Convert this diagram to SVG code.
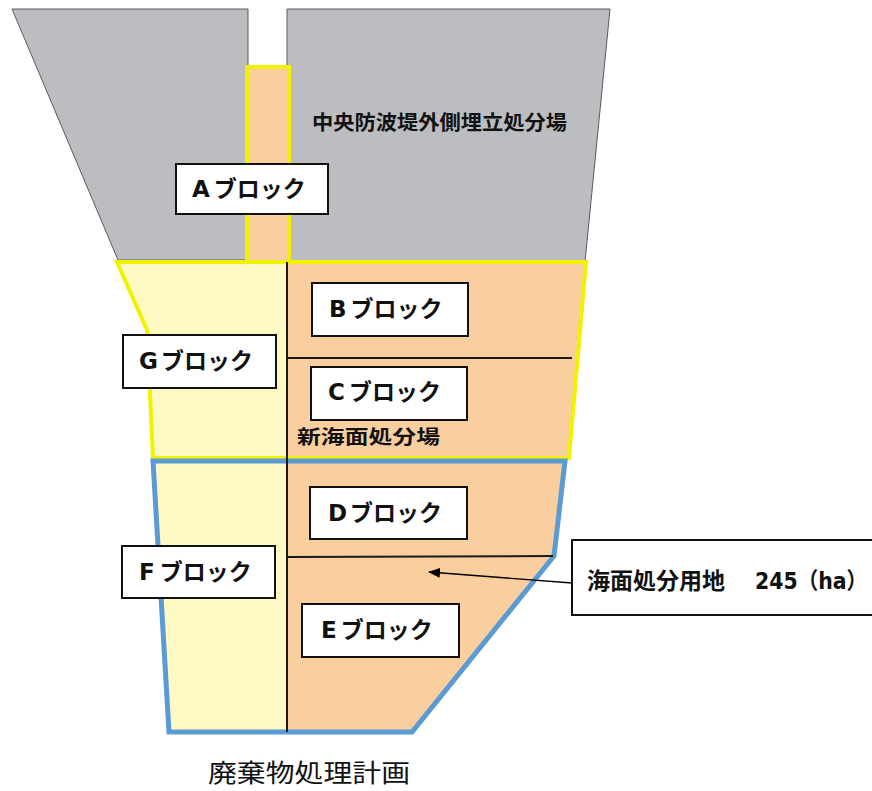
<svg xmlns="http://www.w3.org/2000/svg" width="872" height="791" viewBox="0 0 872 791">
<style>
.gray{fill:#bcbdc0;stroke:#5a5a5a;stroke-width:1}
.org{fill:#f9cf9f}
.lyel{fill:#fff9c3}
.yo{fill:none;stroke:#f2f200;stroke-width:4;stroke-linejoin:miter}
.bo{fill:none;stroke:#5b9bd5;stroke-width:5;stroke-linejoin:miter}
.div{stroke:#1a1a1a;stroke-width:2;fill:none}
.box{fill:#fff;stroke:#111;stroke-width:2}
.lbl{font-family:"DejaVu Sans","Noto Sans CJK JP",sans-serif;font-weight:bold;font-size:23px;fill:#111}
.cjk{font-family:"Noto Sans CJK JP",sans-serif;font-weight:bold;fill:#111}
</style>
<defs>
<marker id="ah" markerWidth="12" markerHeight="10" refX="11" refY="5" orient="auto" markerUnits="userSpaceOnUse">
<path d="M0,0 L12,5 L0,10 Z" fill="#000"/>
</marker>
</defs>
<rect width="872" height="791" fill="#fff"/>
<g id="areas">
<polygon class="gray" points="12,9 248,9 248,260 118,260"/>
<polygon class="gray" points="287,9 610,9 585,262 287,262"/>
<polygon class="lyel" points="117,262 287,262 287,458 153,458 147,330"/>
<polygon class="org" points="287,262 586,262 569,458 287,458"/>
<rect class="org" x="247" y="66" width="42" height="196"/>
<polygon class="lyel" points="153,461 287,461 287,732 169,732"/>
<polygon class="org" points="287,461 565,461 554,556 412,732 287,732"/>
<line class="div" x1="249" y1="262" x2="287" y2="262"/>
<polyline class="yo" points="118,262 247,262 247,67 289,67 289,262 585,262"/>
<polygon class="yo" points="117,262 586,262 569,458 153,458 147,330"/>
<polygon class="bo" points="153,461 565,461 554,556 412,732 169,732"/>
</g>
<g id="connectors">
<line class="div" x1="287" y1="262" x2="287" y2="732"/>
<line class="div" x1="287" y1="358" x2="572" y2="358"/>
<line class="div" x1="287" y1="557" x2="553" y2="556"/>
<line x1="572" y1="583" x2="429" y2="572" stroke="#000" stroke-width="1.3" marker-end="url(#ah)"/>
</g>
<g id="area-label-chuo">
<text class="cjk" x="312" y="130" font-size="20" textLength="255" lengthAdjust="spacingAndGlyphs">中央防波堤外側埋立処分場</text>
</g>
<g id="area-label-shin">
<text class="cjk" x="297" y="444" font-size="19" textLength="143" lengthAdjust="spacingAndGlyphs">新海面処分場</text>
</g>
<g id="blockA">
<rect class="box" x="176" y="164" width="152" height="50"/>
<text class="lbl" x="192" y="197"><tspan>A</tspan><tspan dx="4">ブロック</tspan></text>
</g>
<g id="blockB">
<rect class="box" x="312" y="283" width="156" height="53"/>
<text class="lbl" x="329" y="317"><tspan>B</tspan><tspan dx="4">ブロック</tspan></text>
</g>
<g id="blockC">
<rect class="box" x="311" y="367" width="156" height="53"/>
<text class="lbl" x="328" y="400"><tspan>C</tspan><tspan dx="4">ブロック</tspan></text>
</g>
<g id="blockG">
<rect class="box" x="123" y="335" width="153" height="53"/>
<text class="lbl" x="139" y="369"><tspan>G</tspan><tspan dx="3">ブロック</tspan></text>
</g>
<g id="blockD">
<rect class="box" x="310" y="487" width="157" height="52"/>
<text class="lbl" x="328" y="521"><tspan>D</tspan><tspan dx="3">ブロック</tspan></text>
</g>
<g id="blockF">
<rect class="box" x="122" y="546" width="153" height="52"/>
<text class="lbl" x="139" y="580"><tspan>F</tspan><tspan dx="5">ブロック</tspan></text>
</g>
<g id="blockE">
<rect class="box" x="302" y="604" width="157" height="53"/>
<text class="lbl" x="321" y="638"><tspan>E</tspan><tspan dx="4">ブロック</tspan></text>
</g>
<g id="callout">
<rect class="box" x="572" y="540" width="310" height="75"/>
<text class="lbl" x="587" y="589" font-size="20"><tspan>海面処分用地</tspan><tspan x="755" textLength="112" lengthAdjust="spacingAndGlyphs">245（ha）</tspan></text>
</g>
<g id="title">
<text x="208" y="782" font-family="'Noto Sans CJK JP',sans-serif" font-size="25" fill="#111" textLength="202" lengthAdjust="spacingAndGlyphs">廃棄物処理計画</text>
</g>
</svg>
